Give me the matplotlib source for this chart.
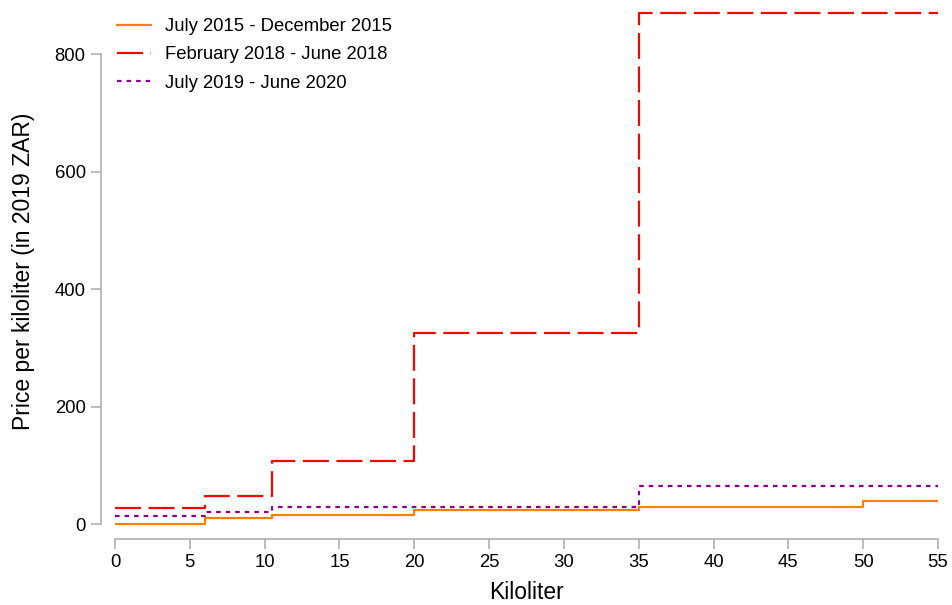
import matplotlib
matplotlib.use("Agg")
import matplotlib.pyplot as plt

plt.rcParams['font.family'] = ['Liberation Sans', 'DejaVu Sans']

kiloliter = [0, 6, 10.5, 20, 35, 50, 55]
price_2015 = [0, 10, 16.5, 24.5, 29.5, 40, 40]
price_2018 = [28.5, 48, 107.5, 326, 870, 870, 870]
price_2019 = [14, 20.5, 29.5, 29.5, 65, 65, 65]
labels = ["July 2015 - December 2015", "February 2018 - June 2018", "July 2019 - June 2020"]
x_ticks = list(range(0, 56, 5))
y_ticks = [0, 200, 400, 600, 800]

W, H = 953, 605
fig = plt.figure(figsize=(W / 100, H / 100), dpi=100)
ylo, yhi = -20, 880
ax_left, ax_right = 115 / W, 938 / W
px_per = (524.3 - 54.3) / 800
bot_px = 524.3 + (0 - ylo) * px_per
top_px = 524.3 - (yhi - 0) * px_per
ax = fig.add_axes([ax_left, (H - bot_px) / H, ax_right - ax_left, (bot_px - top_px) / H])

lw = 1.6
ax.step(kiloliter, price_2015, where='post', color='#FF8000', lw=lw, label=labels[0])
ax.step(kiloliter, price_2018, where='post', color='#FF0000', lw=lw,
        dashes=(11.7, 3.4), label=labels[1])
ax.step(kiloliter, price_2019, where='post', color='#8B008B', lw=lw,
        dashes=(2.05, 2.25), label=labels[2])

ax.set_xlim(0, 55)
ax.set_ylim(ylo, yhi)
ax.set_xticks(x_ticks)
ax.set_yticks(y_ticks)
for s in ['top', 'right']:
    ax.spines[s].set_visible(False)
ax.spines['left'].set_bounds(0, 800)
ax.spines['bottom'].set_bounds(0, 55)
ax.spines['left'].set_position(('outward', 14 * 0.72))
ax.spines['bottom'].set_position(('outward', (539.3 - bot_px) * 0.72))
for s in ['left', 'bottom']:
    ax.spines[s].set_color('#aaaaaa')
    ax.spines[s].set_linewidth(1.1)
ax.tick_params(axis='both', colors='#aaaaaa', labelcolor='black', labelsize=13.3,
               length=7, width=1.1)
ax.tick_params(axis='y', pad=4)
ax.tick_params(axis='x', pad=3.6)
ax.set_xlabel("Kiloliter", fontsize=16.5, labelpad=7)
ax.set_ylabel("Price per kiloliter (in 2019 ZAR)", fontsize=16.5, labelpad=14)

ax.legend(loc='upper left', bbox_to_anchor=(110 / W, 1 - 11 / H), bbox_transform=fig.transFigure,
          borderaxespad=0, frameon=False, fontsize=13.3,
          handlelength=1.8, handletextpad=0.77, labelspacing=0.6)

fig.savefig("out.png", dpi=100)
